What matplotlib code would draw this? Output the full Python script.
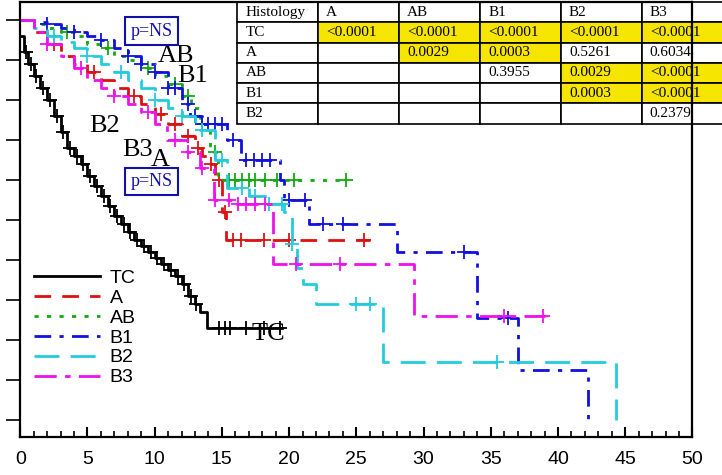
import numpy as np
import matplotlib.pyplot as plt
from matplotlib.ticker import MultipleLocator

# knots of each Kaplan-Meier step curve (time, survival)
tc_t = [0, 0.3, 0.6, 1, 1.5, 2, 2.5, 3, 3.5, 4, 4.5, 5, 5.5, 6, 6.5, 7, 7.5, 8, 8.5, 9, 9.5, 10, 10.5, 11, 11.5, 12, 12.5, 13, 13.4, 13.9, 19.5]
tc_s = [0.96, 0.92, 0.89, 0.86, 0.83, 0.8, 0.76, 0.72, 0.68, 0.66, 0.64, 0.61, 0.585, 0.56, 0.535, 0.51, 0.49, 0.47, 0.45, 0.435, 0.42, 0.405, 0.39, 0.375, 0.36, 0.34, 0.31, 0.29, 0.27, 0.23, 0.23]
a_t = [0, 1, 2, 3, 4, 5, 6, 7, 8, 9, 10, 11, 12, 13, 13.5, 14, 14.5, 15, 15.3, 26]
a_s = [1.0, 0.97, 0.94, 0.91, 0.89, 0.87, 0.85, 0.83, 0.81, 0.79, 0.765, 0.74, 0.71, 0.68, 0.66, 0.64, 0.6, 0.52, 0.45, 0.45]
ab_t = [0, 1, 2, 3, 4, 5, 6, 7, 8, 9, 10, 11, 12, 12.7, 13.4, 14.1, 14.7, 24]
ab_s = [1.0, 0.99, 0.98, 0.97, 0.96, 0.94, 0.93, 0.91, 0.9, 0.88, 0.86, 0.84, 0.81, 0.78, 0.74, 0.67, 0.6, 0.6]
b1_t = [0, 1, 2, 3, 4, 5, 6, 7, 8, 9, 10, 11, 12, 12.6, 13.5, 15.4, 16.4, 19.3, 19.6, 21.5, 28, 34, 37, 42.2]
b1_s = [1.0, 0.995, 0.99, 0.98, 0.97, 0.96, 0.95, 0.93, 0.91, 0.89, 0.87, 0.83, 0.79, 0.76, 0.74, 0.7, 0.65, 0.6, 0.55, 0.49, 0.42, 0.255, 0.125, 0.0]
b2_t = [0, 1, 2, 3, 4, 5, 6, 7, 8, 9, 10, 11, 12, 13, 13.4, 14.5, 15.4, 17, 18.4, 19.6, 20.2, 20.6, 21, 22, 27, 44.3]
b2_s = [1.0, 0.98, 0.96, 0.945, 0.93, 0.91, 0.89, 0.87, 0.85, 0.83, 0.8, 0.78, 0.76, 0.74, 0.725, 0.65, 0.58, 0.56, 0.54, 0.52, 0.44, 0.38, 0.34, 0.29, 0.145, 0.0]
b3_t = [0, 1, 2, 3, 4, 5, 6, 7, 8, 9, 10, 10.9, 12.4, 13.4, 14.4, 15.9, 18.8, 29.3, 39]
b3_s = [1.0, 0.97, 0.94, 0.91, 0.88, 0.85, 0.83, 0.81, 0.79, 0.77, 0.74, 0.7, 0.67, 0.63, 0.55, 0.54, 0.39, 0.26, 0.26]

# censor times
tc_c = [0.4, 0.8, 1.2, 1.7, 2.2, 2.7, 3.2, 3.7, 4.2, 4.7, 5.2, 5.7, 6.2, 6.7, 7.2, 7.7, 8.2, 8.7, 9.2, 9.7, 10.2, 10.7, 11.2, 11.7, 12.2, 12.7, 13.1, 14.8, 15.2, 15.6, 16.8, 18.1, 19.3]
a_c = [2.5, 5.5, 8.5, 10.5, 11.5, 12.5, 13.2, 14.2, 14.8, 15.2, 15.8, 16.4, 18.1, 20.0, 25.6]
ab_c = [3.5, 6.5, 9.5, 11.5, 12.5, 13.5, 14.5, 15.5, 16.0, 16.5, 17.0, 17.5, 18.2, 19.1, 20.4, 24.2]
b1_c = [2, 4, 6, 8, 9, 10, 11, 11.5, 12.5, 13.0, 13.5, 14.0, 14.5, 15.0, 15.8, 16.8, 17.4, 18.0, 18.6, 20.0, 21.2, 22.5, 24.0, 33.0, 36.3]
b2_c = [2.5, 5, 7.5, 10, 12, 13.5, 15, 16.5, 17.5, 18.5, 19.5, 20.2, 25.0, 26.0, 35.5]
b3_c = [2, 4.5, 7, 9.5, 11.5, 12.5, 13.5, 14.5, 15.5, 16.2, 16.8, 17.5, 18.2, 20.5, 23.8, 36.0, 38.9]

series = [
    ("TC", tc_t, tc_s, tc_c, "black", "-"),
    ("A", a_t, a_s, a_c, "#dd1111", (0, (6, 4))),
    ("AB", ab_t, ab_s, ab_c, "#11aa11", (0, (1.5, 3))),
    ("B1", b1_t, b1_s, b1_c, "#1111dd", (0, (6, 3, 1.5, 3))),
    ("B2", b2_t, b2_s, b2_c, "#22ccdd", (0, (9, 4))),
    ("B3", b3_t, b3_s, b3_c, "#ee11ee", (0, (8, 3, 2, 3))),
]

tab_cols = ["Histology", "A", "AB", "B1", "B2", "B3"]
tab_rows = [
    ["TC", "<0.0001", "<0.0001", "<0.0001", "<0.0001", "<0.0001"],
    ["A", "", "0.0029", "0.0003", "0.5261", "0.6034"],
    ["AB", "", "", "0.3955", "0.0029", "<0.0001"],
    ["B1", "", "", "", "0.0003", "<0.0001"],
    ["B2", "", "", "", "", "0.2379"],
]
highlight = [(1, 1), (1, 2), (1, 3), (1, 4), (1, 5), (2, 2), (2, 3), (3, 4), (3, 5), (4, 4), (4, 5)]

fig = plt.figure(figsize=(7.22, 4.75), dpi=100)
ax = fig.add_axes([0.028, 0.08, 0.931, 0.916])

for name, t, s, c, col, ls in series:
    ax.plot(t, s, drawstyle="steps-post", color=col, ls=ls, lw=2, label=name)
    idx = np.searchsorted(t, c, side="right") - 1
    ax.plot(c, np.array(s)[idx], ls="none", marker="+", ms=10, mew=1.3, color=col)

ax.set_xlim(0, 50)
ax.set_ylim(-0.0425, 1.045)
ax.xaxis.set_major_locator(MultipleLocator(5))
ax.xaxis.set_minor_locator(MultipleLocator(1))
ax.yaxis.set_major_locator(MultipleLocator(0.1))
ax.set_yticklabels([])
ax.tick_params(axis="x", direction="in", length=7, width=1.5, labelsize=14, pad=10)
ax.tick_params(axis="x", which="minor", direction="in", length=4, width=1.2)
ax.tick_params(axis="y", direction="out", length=10, width=1.2)
for lab in ax.get_xticklabels():
    lab.set_family("Liberation Sans")
for sp in ax.spines.values():
    sp.set_linewidth(1.6)

serif = dict(family="Liberation Serif", fontsize=19)
ax.text(10.2, 0.895, "AB", **serif)
ax.text(11.7, 0.845, "B1", **serif)
ax.text(5.1, 0.72, "B2", **serif)
ax.text(7.6, 0.66, "B3", **serif)
ax.text(9.7, 0.635, "A", **serif)
ax.text(17.2, 0.2, "TC", **serif)
box = dict(boxstyle="square,pad=0.3", fc="white", ec="#1111aa", lw=1.5)
ax.text(8.2, 0.96, "p=NS", family="Liberation Serif", fontsize=13, color="#1111aa", bbox=box)
ax.text(8.2, 0.585, "p=NS", family="Liberation Serif", fontsize=13, color="#1111aa", bbox=box)

leg = ax.legend(loc="lower left", bbox_to_anchor=(0.0, 0.085), frameon=False,
                prop=dict(family="Liberation Sans", size=14), handlelength=3.4,
                labelspacing=0.12, borderpad=0.2, handletextpad=0.5)

tbl = ax.table(cellText=[tab_cols] + tab_rows, bbox=[0.323, 0.72, 0.722, 0.28], cellLoc="left")
tbl.auto_set_font_size(False)
for (r, c), cell in tbl.get_celld().items():
    cell.get_text().set_fontfamily("Liberation Serif")
    cell.get_text().set_fontsize(11)
    cell.set_linewidth(1.2)
    if (r, c) in highlight:
        cell.set_facecolor("#f5e500")
tbl.set_clip_on(False)

fig.savefig("out.png", dpi=100)
